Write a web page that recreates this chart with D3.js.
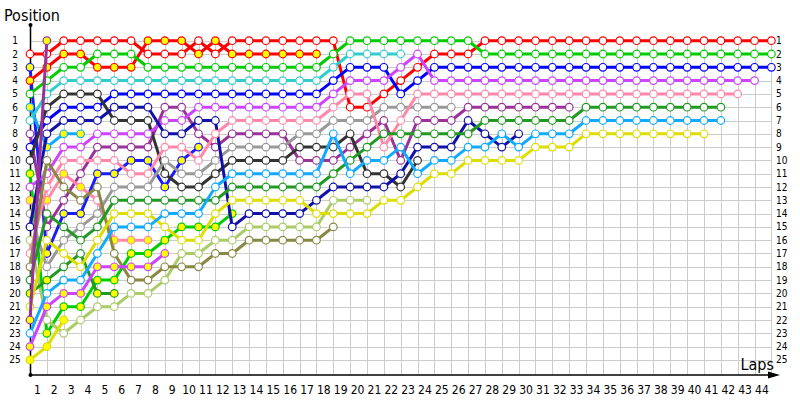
<!DOCTYPE html>
<html lang="en">
<head>
<meta charset="UTF-8">
<title>Lap chart</title>
<script src="https://d3js.org/d3.v7.min.js"></script>
<style>
  body { margin: 0; background: #fff; }
  svg { display: block; font-family: "DejaVu Sans Condensed", "DejaVu Sans", sans-serif; }
  .grid line { stroke: #cccccc; stroke-width: 1; shape-rendering: crispEdges; }
  .lbl { font-size: 10px; fill: #000; }
  .xlbl { font-size: 12px; fill: #000; }
  .title { font-size: 16px; fill: #000; }
</style>
</head>
<body>
<div id="chart"></div>
<script>
// laps run 0..44 (lap 0 = grid)
const laps = d3.range(0, 45);
const positions = d3.range(1, 26);

// position per lap, index = lap
const red1 = [2,2,1,1,1,1,1,2,2,2,1,2,1,1,1,1,1,1,1,6,6,5,4,3,2,2,2,1,1,1,1,1,1,1,1,1,1,1,1,1,1,1,1,1,1];
const red2 = [4,3,2,2,3,3,3,1,1,1,2,1,2,2,2,2,2,2];
const green1 = [5,4,3,3,2,2,2,3,3,3,3,3,3,3,3,3,3,3,2,1,1,1,1,1,1,1,1,2,2,2,2,2,2,2,2,2,2,2,2,2,2,2,2,2,2];
const lblue1 = [6,9,8,8];
const cyan1 = [7,5,4,4,4,4,4,4,4,4,4,4,4,4,4,4,4,4,3,2,2,2,2];
const purple1 = [8,15,13,11,9,9,9,9,6,6,8,9,8,8,8,8,10,10,10,9,8,7,10,7,7,7,6,6,6,6,6,6,6];
const blue1 = [9,7,6,6,6,5,5,5,5,5,5,5,5,5,5,5,5,5,4,3,3,3,5,4,3,3,3,3,3,3,3,3,3,3,3,3,3,3,3,3,3,3,3,3,3];
const blue2 = [3,17,14,14,11,11,10,10,12,10,9];
const dgray1 = [10,6,5,5,5,7,7,7,11,12,12,11,10,10,10,10,9,9,9,8,11,11,12,10];
const green2 = [11,23,21,21,19,19,17,17,16,15,15,15,14];
const violet1 = [12,11,9,9,8,8,8,8,7,7,6,6,6,6,6,6,6,6,5,4,4,4,3,2,4,4,4,4,4,4,4,4,4,4,4,4,4,4,4,4,4,4,4,4];
const pink1 = [13,13,11,12,13,16,16,16];
const gray1 = [14,18,16,15,14,12,12,12,10,11,11,10,9,9,9,9,8,8,7,7,7,6,6,6,6,6];
const navy1 = [15,8,7,7,7,6,6,6,8,8,7,7,15,14,14,14,14,13,12,12,12,12,11,9,9,9,7,8,9,8];
const lgreen1 = [16,22,23,22,21,21,20,20,19,17,17,16,16,15,15,15,15,15,13,13,13];
const pink2 = [17,12,10,10,10,10,11,11,9,9,10,8,7,7,7,7,7,7,6,5,5,9,7,5,5,5,5,5,5,5,5,5,5,5,5,5,5,5,5,5,5,5,5];
const olive1 = [18,10,12,13,12,17,19,19,18,18,18,17,17,16,16,16,16,16,15];
const dgreen1 = [19,14,15,16,15,13,13,13,13,13,13,13,12,12,12,12,12,12,11,10,9,8,8,8,8,8,8,7,7,7,7,7,7,6,6,6,6,6,6,6,6,6];
const dgreen2 = [20,19,18,17,20,20];
const yellow1 = [21,16,17,18,16,14,14,14,15,16,16,14,13,13,13,13,13,14,14,14,14,13,13,12,11,11,10,10,10,10,9,9,9,8,8,8,8,8,8,8,8];
const purple2 = [22,1];
const lblue2 = [23,20,19,19,17,15,15,15,14,14,14,12,11,11,11,11,11,11,8,11,10,10,9,11,10,10,9,9,8,9,8,8,8,7,7,7,7,7,7,7,7,7];
const violet2 = [24,21,20,20,18,18,18,18,17];
const yellow2 = [25,24,22];

// laps drawn with a yellow marker
const red2Hl = [0,1,2,3,4,5,6,7,8,9,10,11,12,13,14,15,16,17];
const lblue1Hl = [0,1,2,3];
const blue2Hl = [0,1,2,3,4,5,6,7,8,9,10];
const green2Hl = [0,1,2,3,4,5,6,7,8,9,10,11,12];
const pink1Hl = [0,1,2,3,5,6,7];
const dgreen2Hl = [0,1,4,5];
const purple2Hl = [0,1];
const violet2Hl = [0,1,2,3,4,5,6,7,8];
const yellow2Hl = [0,1,2];

const series = [
  {pos: red1, color: "#ff0000", hl: []},
  {pos: blue2, color: "#1a1aff", hl: blue2Hl},
  {pos: red2, color: "#ff0000", hl: red2Hl},
  {pos: green1, color: "#00cc00", hl: []},
  {pos: lblue1, color: "#11aaff", hl: lblue1Hl},
  {pos: cyan1, color: "#33cccc", hl: []},
  {pos: purple1, color: "#993399", hl: []},
  {pos: blue1, color: "#0000ff", hl: []},
  {pos: dgray1, color: "#333333", hl: []},
  {pos: green2, color: "#00cc00", hl: green2Hl},
  {pos: violet1, color: "#cc44ff", hl: []},
  {pos: pink1, color: "#ff88aa", hl: pink1Hl},
  {pos: gray1, color: "#999999", hl: []},
  {pos: navy1, color: "#1111aa", hl: []},
  {pos: lgreen1, color: "#aacc66", hl: []},
  {pos: pink2, color: "#ff88aa", hl: []},
  {pos: olive1, color: "#888844", hl: []},
  {pos: dgreen1, color: "#229922", hl: []},
  {pos: dgreen2, color: "#229922", hl: dgreen2Hl},
  {pos: yellow1, color: "#dddd00", hl: []},
  {pos: purple2, color: "#993399", hl: purple2Hl},
  {pos: lblue2, color: "#11aaff", hl: []},
  {pos: violet2, color: "#cc44ff", hl: violet2Hl},
  {pos: yellow2, color: "#dddd00", hl: yellow2Hl}
];

const W = 800, H = 400;
const x = d3.scaleLinear().domain([0, 44]).range([30, 771.4]);
const y = d3.scaleLinear().domain([1, 25]).range([40.7, 359.9]);
const axisY = 375;

const svg = d3.select("#chart").append("svg")
  .attr("width", W).attr("height", H);

// grid
const grid = svg.append("g").attr("class", "grid");
grid.selectAll(".v").data(laps).enter().append("line")
  .attr("x1", d => Math.round(x(d)) + 0.5).attr("x2", d => Math.round(x(d)) + 0.5)
  .attr("y1", y(1)).attr("y2", axisY);
grid.selectAll(".h").data(positions).enter().append("line")
  .attr("x1", x(0)).attr("x2", x(44))
  .attr("y1", d => Math.round(y(d)) + 0.5).attr("y2", d => Math.round(y(d)) + 0.5);

// axes
svg.append("line").attr("x1", 30.5).attr("x2", 30.5).attr("y1", 25).attr("y2", axisY)
  .attr("stroke", "#000").attr("stroke-width", 1.5);
svg.append("line").attr("x1", 30).attr("x2", 772).attr("y1", axisY).attr("y2", axisY)
  .attr("stroke", "#000").attr("stroke-width", 1.5);
svg.append("path").attr("d", `M780,${axisY} L768,${axisY - 3.5} L768,${axisY + 3.5} Z`).attr("fill", "#000");
svg.append("circle").attr("cx", 30.5).attr("cy", 25).attr("r", 2).attr("fill", "#000");
svg.append("circle").attr("cx", 30.5).attr("cy", axisY).attr("r", 2).attr("fill", "#000");

// labels
svg.selectAll(".ly").data(positions).enter().append("text")
  .attr("class", "lbl").attr("x", 15).attr("y", d => y(d)).attr("dy", "0.35em")
  .attr("text-anchor", "middle").text(d => d);
svg.selectAll(".ry").data(positions).enter().append("text")
  .attr("class", "lbl").attr("x", 776).attr("y", d => y(d)).attr("dy", "0.35em")
  .text(d => d);
svg.selectAll(".lx").data(laps.slice(1)).enter().append("text")
  .attr("class", "xlbl").attr("x", d => x(d - 0.5) - 1).attr("y", 394)
  .attr("text-anchor", "middle").text(d => d);
svg.append("text").attr("class", "title").attr("x", 4).attr("y", 21).text("Position");
svg.append("text").attr("class", "title").attr("x", 774).attr("y", 370)
  .attr("text-anchor", "end").text("Laps");

// series
const line = d3.line().x((d, i) => x(i)).y(d => y(d));
series.forEach(s => {
  const g = svg.append("g");
  g.append("path").datum(s.pos).attr("d", line)
    .attr("fill", "none").attr("stroke", s.color).attr("stroke-width", 3)
    .attr("stroke-linejoin", "round");
  g.selectAll("circle").data(s.pos).enter().append("circle")
    .attr("cx", (d, i) => x(i)).attr("cy", d => y(d)).attr("r", 3.8)
    .attr("fill", (d, i) => s.hl.includes(i) ? "#ffff00" : "#ffffff")
    .attr("stroke", s.color).attr("stroke-width", 1.2);
});
</script>
</body>
</html>
